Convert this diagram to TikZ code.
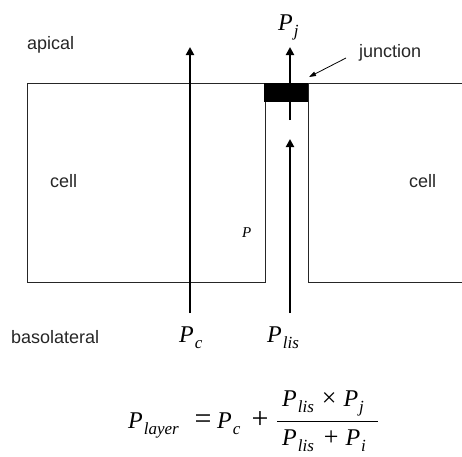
\documentclass[tikz,border=0pt]{standalone}
\usepackage{fontspec}
\setmainfont{Liberation Serif}
\newfontfamily\lsans{Liberation Sans}
\usetikzlibrary{arrows.meta}
\newcommand{\PP}[1]{\textit{P}\kern0.04em\raisebox{-0.28em}{\fontsize{17}{17}\selectfont\textit{#1}}}
\begin{document}
\begin{tikzpicture}[x=1pt,y=-1pt,
  lbl/.style={font=\lsans\fontsize{18}{20}\selectfont, inner sep=0pt, text=black!85},
  mth/.style={font=\fontsize{24}{28}\selectfont, inner sep=0pt},
  wall/.style={line width=0.9pt, draw=black!85},
  flux/.style={line width=2pt, -{Triangle[length=8pt,width=8pt]}},
  pointer/.style={line width=0.8pt, -{Triangle[length=7pt,width=4.5pt]}}]
\useasboundingbox (0,0) rectangle (462,456);
% cells
\draw[wall] (27,83) -- (462,83);
\draw[wall] (265,83) -- (265,282) -- (27,282) -- (27,83);
\draw[wall] (462,282) -- (308,282) -- (308,83);
\node[fill=black, inner sep=0pt, minimum width=44pt, minimum height=19pt, anchor=north west] (jn) at (264,83) {};
% labels
\node[lbl, anchor=base west] (apical) at (27,49) {apical};
\node[lbl, anchor=base west] (baso) at (11,343) {basolateral};
\node[lbl, anchor=base west] (cellL) at (50,187) {cell};
\node[lbl, anchor=base west] (cellR) at (409,187) {cell};
\node[lbl, anchor=base west] (junc) at (359,57) {junction};
\node[inner sep=0pt, anchor=base west, font=\fontsize{15}{15}\selectfont] (psmall) at (242,237) {\textit{P}};
% flux arrows
\coordinate (cb) at (190,313); \coordinate (ct) at (190,47);
\coordinate (lb) at (290,313); \coordinate (lt) at (290,139);
\coordinate (jb) at (290,120); \coordinate (jt) at (290,47);
\draw[flux] (cb) -- (ct);
\draw[flux] (lb) -- (lt);
\draw[flux] (jb) -- (jt);
\coordinate (ja) at (346,58); \coordinate (jtip) at (309,77);
\draw[pointer] (ja) -- (jtip);
% flux labels
\node[mth, anchor=base west] (Pj) at (278,30) {\PP{j}};
\node[mth, anchor=base west] (Pc) at (179,342) {\PP{c}};
\node[mth, anchor=base west] (Plis) at (267,342) {\PP{lis}};
% formula
\node[mth, anchor=base west] (Play) at (128,428) {\PP{layer}};
\node[mth, anchor=base] (eq) at (203,428) {\fontsize{30}{30}\selectfont =};
\node[mth, anchor=base west] (Pc2) at (217,428) {\PP{c}};
\node[mth, anchor=base] (plus) at (260,428) {\fontsize{30}{30}\selectfont +};
\coordinate (fbL) at (277,421); \coordinate (fbR) at (378,421);
\draw[line width=0.9pt] (fbL) -- (fbR);
\node[mth, anchor=base west] (num) at (282,406) {\PP{lis}\hspace{8pt}{\fontsize{26}{26}\selectfont ×}\hspace{7pt}\PP{j}};
\node[mth, anchor=base west] (den) at (282,445) {\PP{lis}\hspace{10pt}{\fontsize{26}{26}\selectfont +}\hspace{7pt}\PP{i}};
\end{tikzpicture}
\end{document}
